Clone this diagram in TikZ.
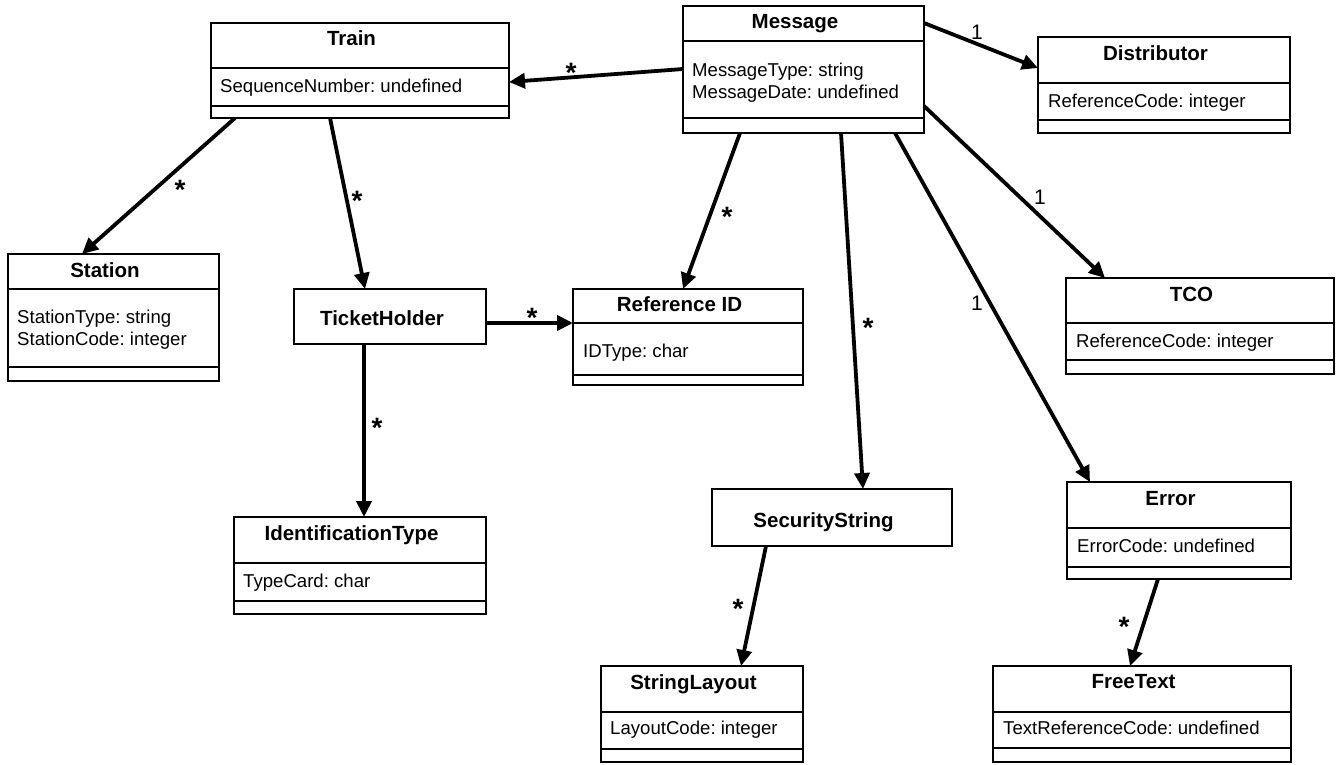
\documentclass[tikz,border=0pt]{standalone}
\usepackage{fontspec}
\setmainfont{Liberation Sans}
\usetikzlibrary{arrows.meta,calc}
\frenchspacing
\begin{document}
\frenchspacing
\begin{tikzpicture}[x=1pt,y=-1pt,
  umlbox/.style={draw, line width=2.3pt, inner sep=0pt, outer sep=0pt, rectangle},
  divider/.style={line width=2pt},
  ctitle/.style={font=\fontsize{20.5}{24}\selectfont\bfseries, inner sep=0pt, anchor=base},
  cattr/.style={font=\fontsize{18.6}{22}\selectfont\frenchspacing, inner sep=0pt, anchor=base west},
  assoc/.style={line width=3.8pt, -{Triangle[length=16pt,width=15pt]}},
  mult/.style={font=\fontsize{28}{30}\selectfont\bfseries, inner sep=0pt},
  one/.style={font=\fontsize{21}{24}\selectfont, inner sep=0pt}]
\useasboundingbox[fill=white] (0,0) rectangle (1343,764);

% ---- class boxes ----
\node[umlbox, minimum width=298pt, minimum height=95pt]  (train) at (360,70.5) {};
\node[umlbox, minimum width=241pt, minimum height=127pt] (msg)   at (803.5,69.5) {};
\node[umlbox, minimum width=252pt, minimum height=96pt]  (dist)  at (1164,85) {};
\node[umlbox, minimum width=211pt, minimum height=127pt] (stat)  at (113.5,317.5) {};
\node[umlbox, minimum width=192pt, minimum height=55pt]  (th)    at (390,316.5) {};
\node[umlbox, minimum width=230pt, minimum height=96pt]  (ref)   at (688,337) {};
\node[umlbox, minimum width=268pt, minimum height=96pt]  (tco)   at (1200,326) {};
\node[umlbox, minimum width=252pt, minimum height=97pt]  (idt)   at (360,565.5) {};
\node[umlbox, minimum width=240pt, minimum height=57pt]  (sec)   at (832,517.5) {};
\node[umlbox, minimum width=224pt, minimum height=97pt]  (err)   at (1179,530.5) {};
\node[umlbox, minimum width=202pt, minimum height=96pt]  (strl)  at (702,714) {};
\node[umlbox, minimum width=298pt, minimum height=96pt]  (free)  at (1142,714) {};

% ---- compartment dividers ----
\foreach \n/\a/\b in {train/68/106, msg/41/118, dist/83/120, stat/289/367, ref/323/375,
                      tco/323/360, idt/563/601, err/528/567, strl/712/749, free/712/748}{
  \draw[divider] (\n.west |- 0,\a) -- (\n.east |- 0,\a);
  \draw[divider] (\n.west |- 0,\b) -- (\n.east |- 0,\b);
}

% ---- titles ----
\node[ctitle] (trainT) at (351.5,45.5) {Train};
\node[ctitle] (msgT)   at (795,28.5)   {Message};
\node[ctitle] (distT)  at (1155.5,60)  {Distributor};
\node[ctitle] (statT)  at (105,277)    {Station};
\node[ctitle] (thT)    at (382,325)    {TicketHolder};
\node[ctitle] (refT)   at (679.5,311)  {Reference ID};
\node[ctitle] (tcoT)   at (1191.5,301) {TCO};
\node[ctitle] (idtT)   at (351.5,540)  {IdentificationType};
\node[ctitle] (secT)   at (823.5,527)  {SecurityString};
\node[ctitle] (errT)   at (1170.5,505) {Error};
\node[ctitle] (strlT)  at (693.5,689)  {StringLayout};
\node[ctitle] (freeT)  at (1133.5,688) {FreeText};

% ---- attributes ----
\node[cattr] (trainA)  at (220,92)   {SequenceNumber: undefined};
\node[cattr] (msgA1)   at (692,76)   {MessageType: string};
\node[cattr] (msgA2)   at (692,98)   {MessageDate: undefined};
\node[cattr] (distA)   at (1048,107) {ReferenceCode: integer};
\node[cattr] (statA1)  at (17,323)   {StationType: string};
\node[cattr] (statA2)  at (17,345)   {StationCode: integer};
\node[cattr] (refA)    at (583,357)  {IDType: char};
\node[cattr] (tcoA)    at (1076,347) {ReferenceCode: integer};
\node[cattr] (idtA)    at (243,587)  {TypeCard: char};
\node[cattr] (errA)    at (1077,552) {ErrorCode: undefined};
\node[cattr] (strlA)   at (610,734)  {LayoutCode: integer};
\node[cattr] (freeA)   at (1003,734) {TextReferenceCode: undefined};

% ---- associations ----
\draw[assoc] ($(msg.north west)+(0,63)$)    -- ($(train.north east)+(0,59)$);
\draw[assoc] ($(train.south west)+(24,0)$)  -- ($(stat.north west)+(74,0)$);
\draw[assoc] ($(train.south west)+(119,0)$) -- ($(th.north west)+(71,0)$);
\draw[assoc] ($(th.south west)+(70,0)$)     -- ($(idt.north west)+(130,0)$);
\draw[assoc] ($(th.north east)+(0,34)$)     -- ($(ref.north west)+(0,34)$);
\draw[assoc] ($(msg.south west)+(57,0)$)    -- ($(ref.north west)+(110,0)$);
\draw[assoc] ($(msg.south west)+(158,0)$)   -- ($(sec.north west)+(151,0)$);
\draw[assoc] ($(msg.south west)+(212,0)$)   -- ($(err.north west)+(23,0)$);
\draw[assoc] ($(msg.north east)+(0,17)$)    -- ($(dist.north west)+(0,31)$);
\draw[assoc] ($(msg.north east)+(0,100)$)   -- ($(tco.north west)+(39,0)$);
\draw[assoc] ($(sec.south west)+(54,0)$)    -- ($(strl.north west)+(140,0)$);
\draw[assoc] ($(err.south west)+(91,0)$)    -- ($(free.north west)+(137,0)$);

% ---- multiplicities ----
\node[mult] (m1) at (571,73)  {*};
\node[mult] (m2) at (180,190) {*};
\node[mult] (m3) at (357,201) {*};
\node[mult] (m4) at (377,428) {*};
\node[mult] (m5) at (532,318) {*};
\node[mult] (m6) at (727,217) {*};
\node[mult] (m7) at (868,328) {*};
\node[mult] (m8) at (738,609) {*};
\node[mult] (m9) at (1124,627) {*};
\node[one] (o1) at (977,32)  {1};
\node[one] (o2) at (1040,197) {1};
\node[one] (o3) at (977,303) {1};
\end{tikzpicture}
\end{document}
